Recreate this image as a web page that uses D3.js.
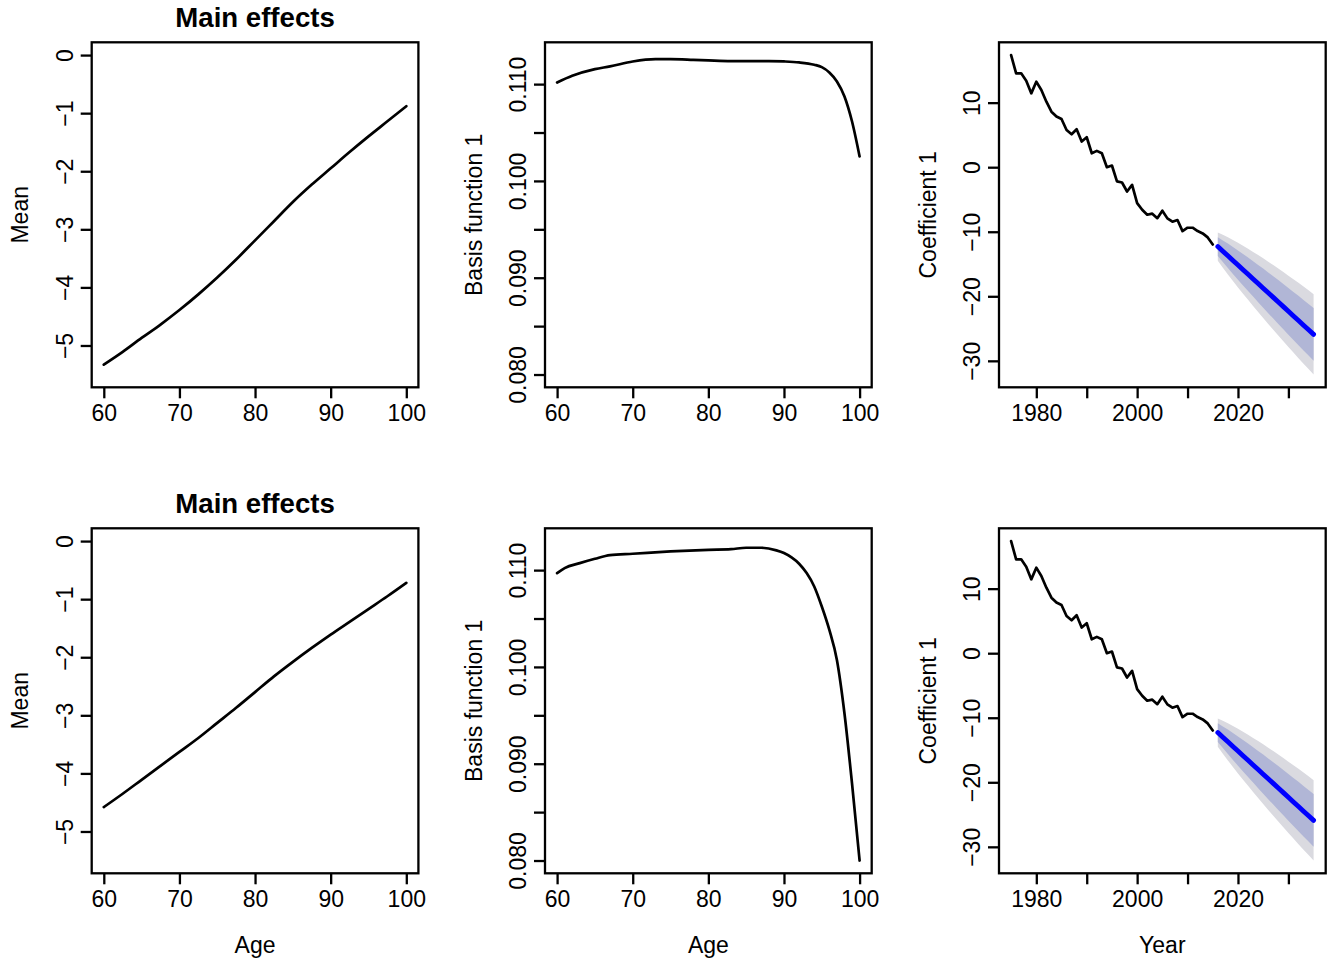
<!DOCTYPE html>
<html>
<head>
<meta charset="utf-8">
<script src="https://cdn.jsdelivr.net/npm/d3@7"></script>
<style>
  body { margin: 0; background: #fff; }
  svg { display: block; font-family: "Liberation Sans", Arial, Helvetica, sans-serif; }
</style>
</head>
<body>
<div id="chart"></div>
<script>
// ---- data ----
const meanAges = [60, 62.5, 65, 67.5, 70, 72.5, 75, 77.5, 80, 82.5, 85, 87.5, 90, 92.5, 95, 97.5, 100];
const meanTop = [-5.33, -5.11, -4.87, -4.64, -4.39, -4.12, -3.83, -3.52, -3.19, -2.86, -2.53, -2.23, -1.95, -1.67, -1.40, -1.14, -0.88];
const meanBottom = [-4.58, -4.35, -4.11, -3.87, -3.63, -3.39, -3.13, -2.87, -2.60, -2.33, -2.08, -1.84, -1.61, -1.39, -1.17, -0.95, -0.72];

const basisAgesTop = [60, 62, 65, 67, 70, 73, 75, 78, 80, 83, 85, 88, 90, 92, 94, 95, 96, 97, 98, 99, 100];
const basisTop = [0.11017, 0.11086, 0.11155, 0.11183, 0.11234, 0.11258, 0.11258, 0.11251, 0.11245, 0.11238, 0.11238, 0.11238, 0.11234, 0.11224, 0.11200, 0.11176, 0.11121, 0.11028, 0.10873, 0.10614, 0.10253];

const basisAgesBottom = [60, 61, 63, 65, 67, 70, 75, 80, 83, 85, 87, 89, 90, 91, 92, 93, 94, 95, 96, 97, 98, 99, 100];
const basisBottom = [0.10969, 0.11021, 0.11072, 0.11117, 0.11155, 0.11169, 0.11193, 0.11210, 0.11217, 0.11231, 0.11231, 0.11204, 0.11176, 0.11131, 0.11066, 0.10969, 0.10831, 0.10624, 0.10382, 0.10071, 0.09519, 0.08794, 0.08000];

const histYears = d3.range(1975, 2016);
const coef = [17.37, 14.54, 14.54, 13.4, 11.44, 13.25, 11.96, 10.15, 8.6, 7.84, 7.47, 5.77, 5.1, 5.88, 3.97, 4.64, 2.16, 2.53, 2.16, 0.0, 0.26,
  -2.2, -2.37, -3.76, -2.73, -5.57, -6.6, -7.37, -7.2, -7.9, -6.74, -7.93, -8.45, -8.19, -9.9, -9.38, -9.38, -9.9, -10.26, -10.88, -11.97];

const fcYears = d3.range(2016, 2036);
const fcMean = [-12.30, -13.02, -13.73, -14.45, -15.16, -15.88, -16.59, -17.31, -18.03, -18.74, -19.46, -20.17, -20.89, -21.60, -22.32, -23.04, -23.75, -24.47, -25.18, -25.90];
const upper95 = [-10.10, -10.47, -10.85, -11.27, -11.70, -12.16, -12.63, -13.12, -13.62, -14.12, -14.64, -15.16, -15.70, -16.24, -16.80, -17.36, -17.92, -18.50, -19.08, -19.68];
const lower95 = [-14.50, -15.57, -16.61, -17.63, -18.62, -19.60, -20.55, -21.50, -22.44, -23.36, -24.28, -25.18, -26.08, -26.96, -27.84, -28.72, -29.58, -30.44, -31.28, -32.12];
const upper80 = [-10.86, -11.35, -11.84, -12.37, -12.89, -13.44, -14.00, -14.57, -15.14, -15.71, -16.30, -16.89, -17.49, -18.09, -18.70, -19.32, -19.93, -20.56, -21.18, -21.82];
const lower80 = [-13.74, -14.69, -15.62, -16.53, -17.43, -18.32, -19.18, -20.05, -20.92, -21.77, -22.62, -23.45, -24.29, -25.11, -25.94, -26.76, -27.57, -28.38, -29.18, -29.98];

const ageTicks = [60, 70, 80, 90, 100];
const meanTicks = [0, -1, -2, -3, -4, -5];
const basisTicks = [0.080, 0.085, 0.090, 0.095, 0.100, 0.105, 0.110];
const basisLabels = [0.080, 0.090, 0.100, 0.110];
const yearTicks = [1980, 1990, 2000, 2010, 2020, 2030];
const yearLabels = [1980, 2000, 2020];
const coefTicks = [10, 0, -10, -20, -30];

const meanLim = [-5.5, 0];
const basisLim = [0.080, 0.113];
const coefLim = [d3.min(lower95), d3.max(coef)];

// ---- layout ----
const W = 1330, H = 965;
const colLeft = [91.7, 545, 999];
const rowTop = [42.3, 528.3];
const pw = 326.7, ph = 345;
const fs = 23;

const svg = d3.select("#chart").append("svg")
  .attr("width", W).attr("height", H);
svg.append("rect").attr("width", W).attr("height", H).attr("fill", "#fff");

// R style 4% axis extension
const ext = lim => {
  const d = (lim[1] - lim[0]) * 0.04;
  return [lim[0] - d, lim[1] + d];
};
const fmtMinus = d => String(d).replace("-", "\u2212");

function panel(col, row, opt) {
  const x0 = colLeft[col], y0 = rowTop[row];
  const g = svg.append("g").attr("transform", `translate(${x0},${y0})`);

  const x = d3.scaleLinear().domain(ext(opt.xlim)).range([0, pw]);
  const y = d3.scaleLinear().domain(ext(opt.ylim)).range([ph, 0]);

  // x axis
  const xa = g.append("g")
    .attr("transform", `translate(0,${ph})`)
    .call(d3.axisBottom(x).tickValues(opt.xticks).tickSize(11).tickSizeOuter(0)
      .tickFormat(d => opt.xlabels.includes(d) ? d : ""));
  xa.select(".domain").remove();
  xa.selectAll("line").attr("stroke", "#000").attr("stroke-width", 2.3);
  xa.selectAll("text").attr("y", 34).attr("dy", null)
    .attr("fill", "#000").style("font-size", fs + "px");

  // y axis
  const ya = g.append("g")
    .call(d3.axisLeft(y).tickValues(opt.yticks).tickSize(11).tickSizeOuter(0)
      .tickFormat(d => opt.ylabels.includes(d) ? opt.yfmt(d) : ""));
  ya.select(".domain").remove();
  ya.selectAll("line").attr("stroke", "#000").attr("stroke-width", 2.3);
  ya.selectAll("text")
    .attr("x", null).attr("dy", null)
    .attr("transform", "translate(-19,0) rotate(-90)")
    .attr("text-anchor", "middle")
    .attr("fill", "#000").style("font-size", fs + "px");

  // axis titles
  g.append("text")
    .attr("transform", `translate(${-63.4},${ph / 2}) rotate(-90)`)
    .attr("text-anchor", "middle")
    .style("font-size", fs + "px")
    .text(opt.ytitle);
  if (opt.xtitle) {
    g.append("text")
      .attr("x", pw / 2).attr("y", ph + 80)
      .attr("text-anchor", "middle")
      .style("font-size", fs + "px")
      .text(opt.xtitle);
  }
  if (opt.title) {
    g.append("text")
      .attr("x", pw / 2).attr("y", -15.8)
      .attr("text-anchor", "middle")
      .style("font-size", (fs * 1.2) + "px")
      .style("font-weight", "bold")
      .text(opt.title);
  }

  opt.draw(g, x, y);

  // box
  g.append("rect")
    .attr("width", pw).attr("height", ph)
    .attr("fill", "none").attr("stroke", "#000").attr("stroke-width", 2.3);
}

function curve(g, x, y, xs, ys) {
  g.append("path")
    .datum(xs.map((d, i) => [d, ys[i]]))
    .attr("fill", "none")
    .attr("stroke", "#000")
    .attr("stroke-width", 2.7)
    .attr("stroke-linejoin", "round")
    .attr("stroke-linecap", "round")
    .attr("d", d3.line().x(d => x(d[0])).y(d => y(d[1])).curve(d3.curveMonotoneX));
}

function coefPanel(g, x, y) {
  const band = (lo, hi, col) => g.append("path")
    .datum(fcYears.map((d, i) => ({ yr: d, lo: lo[i], hi: hi[i] })))
    .attr("fill", col)
    .attr("d", d3.area().x(d => x(d.yr)).y0(d => y(d.lo)).y1(d => y(d.hi)));
  band(lower95, upper95, "#dadae0");
  band(lower80, upper80, "#b1b6d6");

  g.append("path")
    .datum(histYears.map((d, i) => [d, coef[i]]))
    .attr("fill", "none").attr("stroke", "#000").attr("stroke-width", 2.7)
    .attr("stroke-linejoin", "round").attr("stroke-linecap", "round")
    .attr("d", d3.line().x(d => x(d[0])).y(d => y(d[1])));

  g.append("path")
    .datum(fcYears.map((d, i) => [d, fcMean[i]]))
    .attr("fill", "none").attr("stroke", "#0000ff").attr("stroke-width", 4.8)
    .attr("stroke-linecap", "round")
    .attr("d", d3.line().x(d => x(d[0])).y(d => y(d[1])));
}

[0, 1].forEach(row => {
  const last = row === 1;
  panel(0, row, {
    xlim: [60, 100], ylim: meanLim,
    xticks: ageTicks, xlabels: ageTicks,
    yticks: meanTicks, ylabels: meanTicks, yfmt: fmtMinus,
    ytitle: "Mean", xtitle: last ? "Age" : null, title: "Main effects",
    draw: (g, x, y) => curve(g, x, y, meanAges, last ? meanBottom : meanTop)
  });
  panel(1, row, {
    xlim: [60, 100], ylim: basisLim,
    xticks: ageTicks, xlabels: ageTicks,
    yticks: basisTicks, ylabels: basisLabels, yfmt: d3.format(".3f"),
    ytitle: "Basis function 1", xtitle: last ? "Age" : null,
    draw: (g, x, y) => last
      ? curve(g, x, y, basisAgesBottom, basisBottom)
      : curve(g, x, y, basisAgesTop, basisTop)
  });
  panel(2, row, {
    xlim: [1975, 2035], ylim: coefLim,
    xticks: yearTicks, xlabels: yearLabels,
    yticks: coefTicks, ylabels: coefTicks, yfmt: fmtMinus,
    ytitle: "Coefficient 1", xtitle: last ? "Year" : null,
    draw: coefPanel
  });
});
</script>
</body>
</html>
